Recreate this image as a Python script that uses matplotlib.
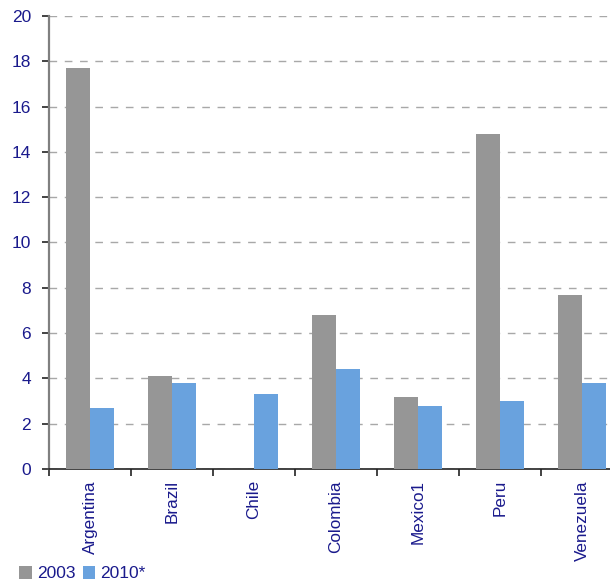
import matplotlib
matplotlib.use("Agg")
import matplotlib.pyplot as plt
import numpy as np
from matplotlib.patches import Patch

categories = ["Argentina", "Brazil", "Chile", "Colombia", "Mexico1", "Peru", "Venezuela"]
values_2003 = [17.7, 4.1, 0.0, 6.8, 3.2, 14.8, 7.7]
values_2010 = [2.7, 3.8, 3.3, 4.4, 2.8, 3.0, 3.8]
series_names = ["2003", "2010*"]
yticks = [0, 2, 4, 6, 8, 10, 12, 14, 16, 18, 20]

plt.rcParams['font.family'] = ['Liberation Sans', 'DejaVu Sans']
navy = "#1a1a8c"
gray = "#969696"
blue = "#69a2de"

fig = plt.figure(figsize=(6.1, 5.86), dpi=100)
# plot area runs past the right edge of the picture (cropped like the reference)
ax = fig.add_axes([49/610, 117/586, 574/610, 453/586])

x = np.arange(len(categories))
w = 0.293
ax.bar(x - w/2, values_2003, width=w, color=gray, zorder=3)
ax.bar(x + w/2, values_2010, width=w, color=blue, zorder=3)

ax.set_xlim(-0.5, 6.5)
ax.set_ylim(0, 20)
ax.set_yticks(yticks)
ax.set_yticklabels([str(v) for v in yticks], color=navy, fontsize=12.5)
ax.yaxis.grid(True, linestyle=(0, (5.5, 5.5)), color="#a8a8a8", linewidth=1.0, zorder=0)
ax.set_axisbelow(True)

ax.set_xticks(np.arange(-0.5, 6.6, 1.0))
ax.set_xticklabels([])
ax.set_xticks(x, minor=True)
ax.set_xticklabels(categories, minor=True, rotation=90, color=navy, fontsize=12.3)
ax.tick_params(axis='x', which='minor', length=0, pad=8)
ax.tick_params(axis='x', which='major', length=5, width=1.2, color="#222222", direction='out')
ax.tick_params(axis='y', length=5, width=1.2, color="#222222", direction='out', pad=8)

for s in ["top", "right"]:
    ax.spines[s].set_visible(False)
ax.spines["left"].set_color("#808080")
ax.spines["left"].set_linewidth(1.6)
ax.spines["bottom"].set_color("#222222")
ax.spines["bottom"].set_linewidth(1.2)

handles = [Patch(facecolor=gray), Patch(facecolor=blue)]
leg = fig.legend(handles, series_names, loc="lower left", bbox_to_anchor=(0.012, -0.013),
                 ncol=2, frameon=False, fontsize=12.5, handlelength=0.72, handleheight=0.72,
                 handletextpad=0.3, columnspacing=0.4, borderpad=0.2)
for t in leg.get_texts():
    t.set_color(navy)

fig.savefig("out.png", dpi=100)
